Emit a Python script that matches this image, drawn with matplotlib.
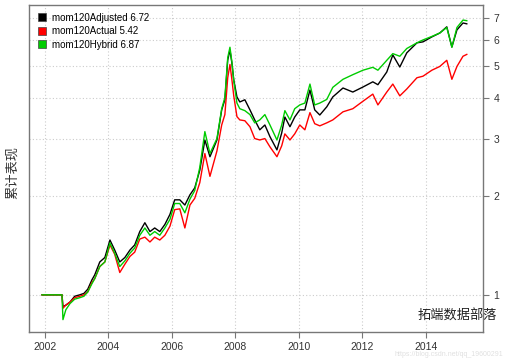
import numpy as np
import matplotlib
matplotlib.use("Agg")
import matplotlib.pyplot as plt
from matplotlib.lines import Line2D
from matplotlib.ticker import FixedLocator, NullLocator

plt.rcParams["font.family"] = ["Liberation Sans", "Noto Sans CJK SC", "DejaVu Sans"]

# dates as decimal years
dates = [2001.91, 2002.54, 2002.57, 2002.66, 2002.79, 2002.94, 2003.10, 2003.23, 2003.35,
         2003.48, 2003.57, 2003.73, 2003.89, 2004.05, 2004.20, 2004.36, 2004.52, 2004.68,
         2004.83, 2004.99, 2005.15, 2005.31, 2005.46, 2005.62, 2005.78, 2005.94, 2006.09,
         2006.25, 2006.41, 2006.57, 2006.72, 2006.88, 2007.04, 2007.20, 2007.42, 2007.57,
         2007.67, 2007.76, 2007.83, 2007.89, 2007.95, 2008.05, 2008.14, 2008.30, 2008.46,
         2008.61, 2008.77, 2008.93, 2009.09, 2009.31, 2009.46, 2009.56, 2009.72, 2009.87,
         2010.03, 2010.19, 2010.35, 2010.50, 2010.66, 2010.88, 2011.07, 2011.39, 2011.70,
         2012.02, 2012.33, 2012.49, 2012.77, 2012.96, 2013.18, 2013.40, 2013.72, 2013.91,
         2014.19, 2014.44, 2014.66, 2014.82, 2014.98, 2015.17, 2015.29]

adjusted = [1.00, 1.00, 0.92, 0.93, 0.95, 0.99, 1.00, 1.01, 1.04,
            1.11, 1.15, 1.26, 1.30, 1.47, 1.37, 1.26, 1.30, 1.37,
            1.42, 1.56, 1.66, 1.56, 1.60, 1.56, 1.64, 1.76, 1.95,
            1.95, 1.88, 2.02, 2.12, 2.40, 2.97, 2.64, 2.97, 3.67,
            3.94, 5.21, 5.59, 5.11, 4.53, 4.02, 3.88, 3.94, 3.67,
            3.42, 3.19, 3.30, 3.04, 2.77, 3.12, 3.49, 3.26, 3.49,
            3.67, 3.67, 4.22, 3.67, 3.54, 3.75, 4.02, 4.28, 4.16,
            4.31, 4.47, 4.38, 4.79, 5.40, 4.96, 5.48, 5.88, 5.92,
            6.13, 6.30, 6.58, 5.71, 6.44, 6.76, 6.72]

actual = [1.00, 1.00, 0.91, 0.93, 0.95, 0.98, 0.99, 1.00, 1.02,
          1.09, 1.12, 1.22, 1.26, 1.42, 1.33, 1.17, 1.24, 1.31,
          1.35, 1.48, 1.50, 1.45, 1.50, 1.47, 1.52, 1.62, 1.82,
          1.83, 1.60, 1.88, 1.97, 2.20, 2.70, 2.30, 2.75, 3.30,
          3.55, 4.60, 5.05, 4.55, 4.05, 3.50, 3.42, 3.40, 3.26,
          3.00, 2.97, 3.00, 2.83, 2.64, 2.85, 3.10, 2.97, 3.10,
          3.30, 3.19, 3.60, 3.33, 3.28, 3.35, 3.42, 3.62, 3.70,
          3.90, 4.10, 3.80, 4.16, 4.40, 4.05, 4.25, 4.60, 4.65,
          4.85, 4.98, 5.20, 4.55, 4.98, 5.35, 5.42]

hybrid = [1.00, 1.00, 0.84, 0.90, 0.94, 0.97, 0.98, 0.99, 1.02,
          1.08, 1.12, 1.22, 1.26, 1.44, 1.34, 1.22, 1.27, 1.34,
          1.39, 1.52, 1.60, 1.52, 1.56, 1.52, 1.60, 1.70, 1.90,
          1.90, 1.78, 1.96, 2.08, 2.45, 3.15, 2.70, 3.00, 3.70,
          4.00, 5.30, 5.70, 5.15, 4.50, 3.85, 3.70, 3.65, 3.55,
          3.35, 3.42, 3.55, 3.30, 2.97, 3.30, 3.65, 3.42, 3.70,
          3.80, 3.85, 4.40, 3.80, 3.85, 3.95, 4.30, 4.55, 4.70,
          4.85, 4.95, 4.85, 5.20, 5.45, 5.35, 5.65, 5.88, 6.00,
          6.15, 6.30, 6.55, 5.70, 6.55, 6.90, 6.87]

labels = ["mom120Adjusted 6.72", "mom120Actual 5.42", "mom120Hybrid 6.87"]
colors = ["black", "red", "#00cc00"]
year_ticks = [2002, 2004, 2006, 2008, 2010, 2012, 2014]
y_ticks = [1, 2, 3, 4, 5, 6, 7]

fig = plt.figure(figsize=(5.05, 3.58), dpi=100)
ax = fig.add_axes([0.0574, 0.0726, 0.899, 0.9134])

for s, c in zip([adjusted, actual, hybrid], colors):
    ax.plot(dates, s, color=c, linewidth=1.0)

ax.set_yscale("log")
ax.set_ylim(0.77, 7.67)
ax.set_xlim(2001.5, 2015.8)
ax.yaxis.set_major_locator(FixedLocator(y_ticks))
ax.yaxis.set_minor_locator(NullLocator())
ax.set_yticklabels([str(v) for v in y_ticks])
ax.set_xticks(year_ticks)
ax.set_xticklabels([str(v) for v in year_ticks])
ax.yaxis.tick_right()

ax.grid(True, color="#cccccc", linestyle=(0, (1, 2)), linewidth=0.8)
for sp in ax.spines.values():
    sp.set_color("#777777")
    sp.set_linewidth(1.0)
ax.tick_params(colors="#777777", labelcolor="#333333", labelsize=7.5, length=4, direction="out")

handles = [Line2D([], [], marker="s", color=c, linestyle="none", markersize=6,
                  markeredgecolor="#444444", markeredgewidth=0.5) for c in colors]
ax.legend(handles, labels, loc="upper left", frameon=False, fontsize=7,
          handletextpad=0.6, labelspacing=0.35, borderaxespad=0.4, handlelength=1.0)

fig.text(12 / 505, 1 - 172 / 358, "累计表现", rotation=90, ha="center", va="center",
         fontsize=9.5, color="#333333", family=["Noto Sans CJK SC", "DejaVu Sans"])

# watermarks
fig.text(418 / 505, 1 - 316 / 358, "拓端数据部落", ha="left", va="center", fontsize=9.5,
         color="#222222", family=["Noto Sans CJK SC", "DejaVu Sans"])
fig.text(503 / 505, 1 - 355 / 358, "https://blog.csdn.net/qq_19600291", ha="right", va="center",
         fontsize=5, color="#e0e0e0")

fig.savefig("out.png", dpi=100)
